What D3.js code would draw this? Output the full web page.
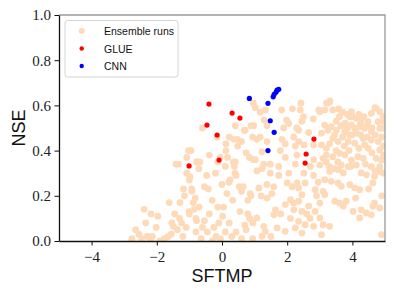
<!DOCTYPE html>
<html>
<head>
<meta charset="utf-8">
<script src="https://cdn.jsdelivr.net/npm/d3@7"></script>
<style>
  body { margin: 0; background: #fff; }
  svg { display: block; }
  .tick text { font-family: "Liberation Serif", "DejaVu Serif", serif; }
</style>
</head>
<body>
<div id="chart"></div>
<script>
// data
var xTicks = [-4, -2, 0, 2, 4]
var yTicks = [0, 0.2, 0.4, 0.6, 0.8, 1.0]

var ensembleSftmp = [
  -2.77,-2.65,-2.76,-2.46,-2.55,-2.39,-2.34,-2.18,-2.29,-2.14,-2.2,-1.97,-2.02,-1.9,-1.77,-1.65,-1.56,-1.54,-1.49,-1.37,
  -1.62,-1.29,-1.24,-1.10,-1.2,-1.3,-1.45,-1.15,-1.18,-1.41,-1.34,-1.03,-1.08,-1.08,-0.98,-0.93,-0.88,-0.86,-1.01,-0.78,
  -1.0,-0.71,-0.47,-0.92,-0.82,-0.54,-0.42,-1.0,-0.8,-0.54,-0.39,-0.13,0.05,0.02,0.22,0.43,-0.18,-0.05,-0.8,-0.64,
  -0.45,-0.3,0.3,0.1,-0.25,-0.6,-0.7,-0.3,0.15,0.0,-0.2,0.1,-0.05,0.79,0.85,0.95,0.74,0.94,0.6,0.21,
  0.25,0.43,0.53,0.6,0.33,0.79,0.89,0.40,0.65,0.86,0.35,0.96,-0.78,
  -0.6,-0.95,-0.75,-0.68,-0.39,-0.15,0.12,0.22,0.36,0.48,0.41,0.68,0.89,0.94,0.48,0.12,0.17,0.74,0.84,0.38,
  0.41,-0.13,0.96,1.17,0.71,0.60,
  1.83,2.16,2.42,2.40,2.5,1.98,2.05,1.29,1.38,0.97,1.07,1.17,1.38,1.89,1.84,1.94,2.20,2.35,2.25,2.51,
  2.66,2.81,1.23,1.79,1.94,2.30,1.02,1.28,1.48,1.74,2.25,2.81,2.71,2.29,2.35,2.8,2.97,3.21,3.31,2.45,
  1.33,1.02,
  1.07,1.23,1.48,1.74,2.05,2.51,2.81,1.13,1.38,1.59,1.53,1.38,2.0,2.15,2.30,2.35,2.45,2.55,2.86,2.10,
  2.20,2.35,1.94,1.64,1.59,2.20,2.45,2.66,2.86,1.07,1.28,1.33,1.69,1.94,2.25,2.35,2.55,2.81,2.45,1.23,
  3.30,3.15,3.40,3.58,3.0,3.97,3.92,4.12,4.27,4.73,4.84,4.58,4.48,4.79,3.78,3.35,3.15,3.05,3.51,3.97,
  4.07,4.22,4.38,4.58,4.84,4.12,3.92,3.77,3.40,3.56,3.87,4.33,4.58,4.79,3.05,3.2,4.07,4.38,4.48,4.84,
  3.61,3.77,3.40,3.10,4.17,3.97,4.33,4.73,4.89,3.0,3.30,3.66,3.87,4.12,4.58,4.84,
  3.30,3.56,3.72,3.15,3.35,3.56,3.66,3.92,4.07,4.22,4.27,4.43,4.68,4.84,4.63,3.10,3.15,3.0,3.46,3.61,
  3.81,3.72,4.02,4.27,4.22,4.43,4.63,4.68,4.84,4.58,3.0,3.10,3.30,3.05,4.89,
  3.6,3.7,3.85,4.0,4.2,4.35,3.5,3.65,3.85,4.25,4.45,4.6,4.7,4.9,4.95,3.25,3.45,3.7,4.0,4.25,
  4.45,4.95,3.3,3.75,4.2,4.6,4.95,3.5,3.9,3.2,3.55,3.95,4.4,4.7,4.95,3.2,3.45,4.95,4.69,4.95,
  2.9,2.95,2.6,2.7,2.1,1.8,1.5,1.2,0.55,0.7,-0.1,4.9,4.1,4.5
]
var ensembleNse = [
  0.00,0.05,0.01,0.01,0.03,0.14,0.08,0.12,0.02,0.02,0.00,0.11,0.06,0.00,0.01,0.02,0.03,0.08,0.065,0.05,
  0.17,0.17,0.08,0.06,0.02,0.10,0.12,0.20,0.23,0.34,0.34,0.40,0.37,0.30,0.285,0.23,0.17,0.14,0.13,0.09,
  0.27,0.32,0.29,0.22,0.19,0.24,0.23,0.12,0.10,0.09,0.12,0.15,0.15,0.11,0.08,0.04,0.02,0.01,0.04,0.01,
  0.04,0.00,0.02,0.04,0.06,0.06,0.15,0.18,0.21,0.25,0.30,0.33,0.37,0.12,0.10,0.08,0.05,0.01,0.01,0.26,
  0.27,0.29,0.24,0.22,0.18,0.18,0.20,0.30,0.24,0.21,0.35,0.36,0.35,
  0.50,0.40,0.35,0.35,0.38,0.46,0.43,0.46,0.45,0.45,0.51,0.49,0.51,0.46,0.42,0.40,0.37,0.39,0.37,0.33,
  0.35,0.35,0.61,0.57,0.49,0.44,
  0.58,0.585,0.61,0.58,0.55,0.535,0.52,0.535,0.51,0.51,0.45,0.46,0.44,0.50,0.45,0.43,0.46,0.44,0.42,0.425,
  0.48,0.425,0.395,0.40,0.37,0.38,0.36,0.34,0.34,0.33,0.34,0.36,0.33,0.50,0.49,0.54,0.58,0.61,0.62,0.53,
  0.58,0.59,
  0.31,0.32,0.30,0.29,0.30,0.30,0.29,0.235,0.25,0.24,0.21,0.19,0.257,0.24,0.257,0.235,0.205,0.257,0.227,0.183,
  0.168,0.176,0.161,0.138,0.116,0.138,0.131,0.154,0.131,0.102,0.065,0.043,0.058,0.043,0.058,0.087,0.072,0.065,0.035,0.021,
  0.614,0.58,0.58,0.584,0.572,0.572,0.55,0.543,0.535,0.587,0.572,0.565,0.528,0.528,0.521,0.506,0.513,0.477,0.491,0.513,
  0.499,0.506,0.499,0.484,0.499,0.477,0.469,0.484,0.454,0.44,0.44,0.454,0.447,0.44,0.425,0.41,0.433,0.425,0.41,0.403,
  0.388,0.381,0.373,0.366,0.373,0.358,0.366,0.366,0.358,0.336,0.329,0.336,0.329,0.336,0.329,0.329,
  0.308,0.316,0.301,0.271,0.264,0.257,0.242,0.249,0.235,0.227,0.301,0.293,0.286,0.308,0.257,0.22,0.205,0.168,0.176,0.168,
  0.176,0.154,0.131,0.138,0.102,0.124,0.154,0.168,0.146,0.116,0.102,0.072,0.065,0.028,0.028,
  0.55,0.57,0.56,0.55,0.56,0.55,0.53,0.51,0.50,0.52,0.51,0.50,0.47,0.46,0.50,0.49,0.47,0.46,0.47,0.47,
  0.46,0.42,0.43,0.42,0.41,0.39,0.38,0.40,0.40,0.38,0.35,0.33,0.34,0.31,0.30,0.35,0.32,0.55,0.59,0.53,
  0.20,0.26,0.12,0.10,0.10,0.12,0.02,0.20,0.13,0.07,0.08,0.20,0.19,0.23
]

var glueSftmp = [-0.40, -0.46, 0.31, 0.55, -0.15, -0.09, -1.01, 2.82, 2.58, 2.55]
var glueNse = [0.606, 0.513, 0.566, 0.544, 0.469, 0.358, 0.332, 0.451, 0.385, 0.345]

var cnnSftmp = [0.84, 1.41, 1.57, 1.60, 1.66, 1.74, 1.69, 1.48, 1.60, 1.41]
var cnnNse = [0.631, 0.609, 0.638, 0.649, 0.659, 0.671, 0.668, 0.532, 0.481, 0.400]

var legendLabels = ["Ensemble runs", "GLUE", "CNN"]
var legendColors = ["#ffdab9", "#ff0000", "#0000ff"]

var width = 394, height = 296
var margin = {top: 15, right: 9, bottom: 55, left: 59}

var svg = d3.select("#chart").append("svg")
    .attr("width", width)
    .attr("height", height)

var x = d3.scaleLinear().domain([-5, 5]).range([margin.left, width - margin.right])
var y = d3.scaleLinear().domain([0, 1]).range([height - margin.bottom, margin.top])

svg.append("clipPath").attr("id", "plotclip")
    .append("rect")
    .attr("x", x(-5)).attr("y", y(1))
    .attr("width", x(5) - x(-5)).attr("height", y(0) - y(1))

var pts = svg.append("g").attr("clip-path", "url(#plotclip)")

//ensemble cloud first, then GLUE, then CNN on top
pts.selectAll("circle.ens")
    .data(d3.range(ensembleSftmp.length))
    .enter()
    .append("circle")
    .attr("class", "ens")
    .attr("cx", function(i) { return x(ensembleSftmp[i]) })
    .attr("cy", function(i) { return y(ensembleNse[i]) })
    .attr("r", 3.4)
    .attr("fill", legendColors[0])

pts.selectAll("circle.glue")
    .data(d3.range(glueSftmp.length))
    .enter()
    .append("circle")
    .attr("class", "glue")
    .attr("cx", function(i) { return x(glueSftmp[i]) })
    .attr("cy", function(i) { return y(glueNse[i]) })
    .attr("r", 2.6)
    .attr("fill", legendColors[1])

pts.selectAll("circle.cnn")
    .data(d3.range(cnnSftmp.length))
    .enter()
    .append("circle")
    .attr("class", "cnn")
    .attr("cx", function(i) { return x(cnnSftmp[i]) })
    .attr("cy", function(i) { return y(cnnNse[i]) })
    .attr("r", 2.6)
    .attr("fill", legendColors[2])

// top and right spines are grey
svg.append("path")
    .attr("d", "M" + x(-5) + "," + y(1) + "H" + x(5) + "V" + y(0))
    .attr("fill", "none")
    .attr("stroke", "#9a9a9a")
    .attr("stroke-width", 1.3)

var xAxis = svg.append("g")
    .attr("transform", "translate(0," + y(0) + ")")
    .call(d3.axisBottom(x)
        .tickValues(xTicks)
        .tickSize(4.5)
        .tickSizeOuter(0)
        .tickPadding(6)
        .tickFormat(function(d) { return d < 0 ? "\u2212" + Math.abs(d) : d }))

var yAxis = svg.append("g")
    .attr("transform", "translate(" + x(-5) + ",0)")
    .call(d3.axisLeft(y)
        .tickValues(yTicks)
        .tickSize(4.5)
        .tickSizeOuter(0)
        .tickPadding(3.5)
        .tickFormat(d3.format(".1f")))

xAxis.attr("font-family", null)
yAxis.attr("font-family", null)

svg.selectAll(".domain").attr("stroke", "#111").attr("stroke-width", 1.3)
svg.selectAll(".tick line").attr("stroke", "#111").attr("stroke-width", 1)
svg.selectAll(".tick text")
    .style("font-family", "'Liberation Serif', serif")
    .style("font-size", "15px")
    .attr("fill", "#222")

svg.append("text")
    .attr("x", (x(-5) + x(5)) / 2)
    .attr("y", 281.5)
    .attr("text-anchor", "middle")
    .attr("font-family", "'Liberation Sans', sans-serif")
    .attr("font-size", 18)
    .attr("fill", "#111")
    .text("SFTMP")

svg.append("text")
    .attr("transform", "translate(24.5," + ((y(0) + y(1)) / 2) + ") rotate(-90)")
    .attr("text-anchor", "middle")
    .attr("font-family", "'Liberation Sans', sans-serif")
    .attr("font-size", 18)
    .attr("fill", "#111")
    .text("NSE")

// legend
var legend = svg.append("g").attr("transform", "translate(65,20.5)")
legend.append("rect")
    .attr("width", 113)
    .attr("height", 56.5)
    .attr("rx", 2.5)
    .attr("fill", "#fff")
    .attr("fill-opacity", 0.85)
    .attr("stroke", "#d4d4d4")
    .attr("stroke-width", 1)

var items = legend.selectAll("g.item")
    .data(legendLabels)
    .enter()
    .append("g")
    .attr("class", "item")
    .attr("transform", function(d, i) { return "translate(0," + (10.5 + i * 17.5) + ")" })

items.append("circle")
    .attr("cx", 16.7)
    .attr("r", function(d, i) { return i == 0 ? 3 : 2.2 })
    .attr("fill", function(d, i) { return legendColors[i] })

items.append("text")
    .attr("x", 39)
    .attr("y", 4)
    .attr("font-family", "'Liberation Sans', sans-serif")
    .attr("font-size", 10.5)
    .attr("fill", "#111")
    .text(function(d) { return d })
</script>
</body>
</html>
